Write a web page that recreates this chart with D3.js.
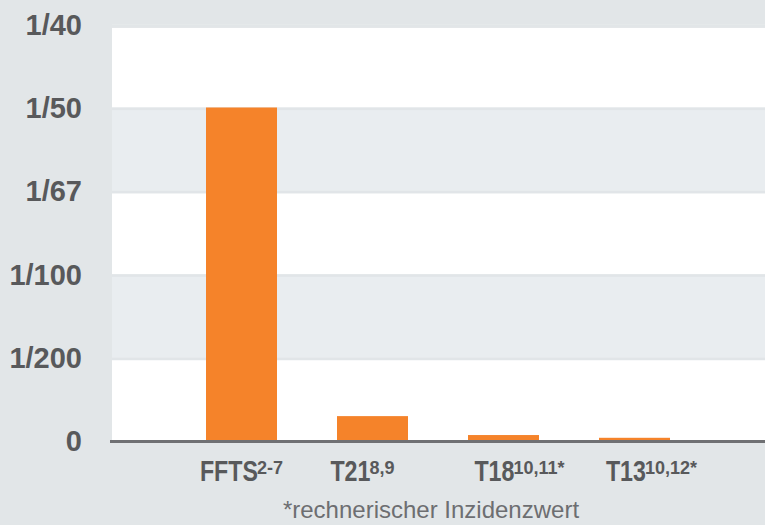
<!DOCTYPE html>
<html>
<head>
<meta charset="utf-8">
<script src="https://cdn.jsdelivr.net/npm/d3@7"></script>
<style>
  html, body { margin: 0; padding: 0; background: #e2e6e8; }
  svg { display: block; }
</style>
</head>
<body>
<div id="canvas"></div>
<script>
// chart data
const categories = ["FFTS", "T21", "T18", "T13"];
const refs = ["2-7", "8,9", "10,11*", "10,12*"];
const values = [1 / 50, 1 / 670, 1 / 2800, 1 / 5200];
const yTicks = [0, 1 / 200, 1 / 100, 3 / 200, 1 / 50, 1 / 40];
const yLabels = ["0", "1/200", "1/100", "1/67", "1/50", "1/40"];
const footnote = "*rechnerischer Inzidenzwert";

// small nudges for the category labels (layout only)
const labelDx = [0, -10, 16, 17];

const width = 765;
const height = 525;
const condense = 0.8;

const canvas = d3.select("#canvas")
    .append("svg")
    .attr("width", width)
    .attr("height", height)
    .style("background", "#e2e6e8");

// scales
const y = d3.scaleLinear()
    .domain([0, 1 / 50])
    .range([441, 107.5]);

const x = d3.scaleBand()
    .domain(categories)
    .range([176, 700])
    .paddingInner(60 / 131)
    .paddingOuter(30 / 131);

const plotLeft = 112;
const plotRight = width;

// bands, alternating white / light grey
const bands = d3.pairs(yTicks);
canvas.append("g")
    .selectAll("rect")
    .data(bands)
    .join("rect")
    .attr("x", plotLeft)
    .attr("width", plotRight - plotLeft)
    .attr("y", d => y(d[1]))
    .attr("height", d => y(d[0]) - y(d[1]))
    .style("fill", (d, i) => i % 2 === 0 ? "#ffffff" : "#e9edf0");

// thin separators at each grid value
canvas.append("g")
    .selectAll("rect")
    .data(yTicks.slice(1))
    .join("rect")
    .attr("x", plotLeft)
    .attr("width", plotRight - plotLeft)
    .attr("y", d => y(d))
    .attr("height", (d, i) => i === yTicks.length - 2 ? 3.8 : 2.6)
    .style("fill", (d, i) => i === yTicks.length - 2 ? "#e2e6e8" : "#e1e5e8");

// bars
canvas.append("g")
    .selectAll("rect")
    .data(values)
    .join("rect")
    .attr("x", (d, i) => x(categories[i]))
    .attr("width", x.bandwidth())
    .attr("y", d => y(d))
    .attr("height", d => y(0) - y(d))
    .style("fill", "#f5832a");

// baseline
canvas.append("line")
    .attr("x1", 110)
    .attr("x2", plotRight)
    .attr("y1", y(0) + 0.5)
    .attr("y2", y(0) + 0.5)
    .style("stroke", "#6f7073")
    .style("stroke-width", 3);

// y labels
canvas.append("g")
    .selectAll("text")
    .data(yTicks)
    .join("text")
    .attr("x", 82)
    .attr("y", d => y(d))
    .attr("dy", "0.36em")
    .attr("text-anchor", "end")
    .style("font-family", "'Liberation Sans', Arial, sans-serif")
    .style("font-weight", "bold")
    .style("font-size", "29px")
    .style("fill", "#58595b")
    .text((d, i) => yLabels[i]);

// x labels: condensed main name + superscript references
const labelGroups = canvas.append("g")
    .selectAll("g")
    .data(categories)
    .join("g");

labelGroups.each(function (d, i) {
    const g = d3.select(this);
    const main = g.append("text")
        .style("font-family", "'Liberation Sans', Arial, sans-serif")
        .style("font-weight", "bold")
        .style("font-size", "29px")
        .style("fill", "#58595b")
        .text(d);
    const sup = g.append("text")
        .style("font-family", "'Liberation Sans', Arial, sans-serif")
        .style("font-weight", "bold")
        .style("font-size", "19px")
        .style("fill", "#58595b")
        .text(refs[i]);

    const w1 = main.node().getComputedTextLength() * condense;
    const w2 = sup.node().getComputedTextLength() * 0.95;
    const gap = -1;
    const cx = x(d) + x.bandwidth() / 2 + labelDx[i];
    const start = cx - (w1 + w2 + gap) / 2;

    main.attr("transform", `translate(${start}, 481) scale(${condense}, 1)`);
    sup.attr("transform", `translate(${start + w1 + gap}, 473.5) scale(0.95, 1)`);
});

// footnote
canvas.append("text")
    .attr("x", 431)
    .attr("y", 518)
    .attr("text-anchor", "middle")
    .style("font-family", "'Liberation Sans', Arial, sans-serif")
    .style("font-size", "24px")
    .style("fill", "#6d6e71")
    .text(footnote);
</script>
</body>
</html>
